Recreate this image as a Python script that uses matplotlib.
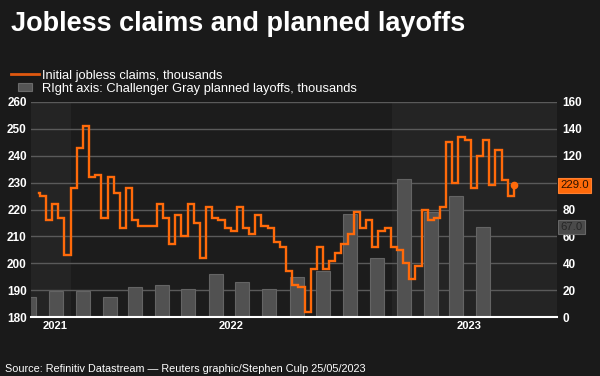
import matplotlib
matplotlib.use('Agg')
import matplotlib.pyplot as plt
import matplotlib.patches as mpatches
from matplotlib.lines import Line2D
from matplotlib.legend_handler import HandlerPatch
import pandas as pd

plt.rcParams.update({
    'font.family': ['Liberation Sans', 'DejaVu Sans'],
    'font.size': 9,
    'figure.dpi': 100,
    'savefig.dpi': 100,
})

BG = '#1a1a1a'
ORANGE = '#ff6a0a'
BAR_FILL = '#515151'
BAR_EDGE = '#646464'

# weekly initial jobless claims (thousands); first value is the tail of the prior week
claims_values = [226, 225, 216, 222, 217, 203, 228, 243, 251, 232,
                 233, 217, 232, 226, 213, 228, 216, 214, 214, 214,
                 222, 217, 207, 218, 210, 222, 215, 202, 221, 217,
                 216, 213, 212, 221, 213, 211, 218, 214, 213, 208,
                 206, 197, 192, 191, 182, 198, 206, 198, 201, 204,
                 207, 211, 219, 213, 216, 206, 212, 213, 206, 205,
                 200, 194, 199, 220, 216, 217, 221, 245, 230, 247,
                 246, 228, 240, 246, 229, 242, 231, 225, 229]
claims_first_date = '2021-11-26'
claims_week_start = '2021-11-27'

# Challenger Gray planned layoffs (thousands), monthly Nov 2021 - Apr 2023
layoff_values = [15, 19, 19, 15, 22, 24, 21, 32, 26, 21,
                 30, 34, 77, 44, 103, 78, 90, 67]
layoff_first_month = '2021-11-01'

years = ['2021', '2022', '2023']
year_label_dates = ['2021-12-14', '2022-07-03', '2023-03-30']
year_starts = ['2022-01-01', '2023-01-01']
x_range = ['2021-11-17', '2023-07-08']

claims_dates = pd.DatetimeIndex([claims_first_date]).append(
    pd.date_range(claims_week_start, periods=len(claims_values) - 1, freq='7D'))
layoff_dates = pd.date_range(layoff_first_month, periods=len(layoff_values),
                             freq='MS') + pd.Timedelta(days=14)
x0, x1 = pd.to_datetime(x_range)

fig = plt.figure(figsize=(6.0, 3.76), facecolor=BG)
ax_bars = fig.add_axes([31 / 600, 59 / 376, 526 / 600, 215 / 376])
ax_line = ax_bars.twinx()

# background bands per calendar year
ax_bars.set_facecolor('#1c1c1c')
ax_bars.axvspan(x0, pd.Timestamp(year_starts[0]), color='#242424', zorder=0, lw=0)
ax_bars.axvspan(pd.Timestamp(year_starts[1]), x1, color='#242424', zorder=0, lw=0)

ax_bars.bar(layoff_dates, layoff_values, width=16, color=BAR_FILL,
            edgecolor=BAR_EDGE, linewidth=0.8, zorder=2)
ax_line.plot(claims_dates, claims_values, color=ORANGE, lw=1.7,
             drawstyle='steps-post', solid_joinstyle='miter', zorder=3)
ax_line.plot(claims_dates[-1:], claims_values[-1:], 'o', color=ORANGE,
             ms=4.5, zorder=4)

ax_bars.set_xlim(x0, x1)
ax_bars.set_ylim(0, 160)
ax_line.set_ylim(180, 260)
right_ticks = list(range(0, 161, 20))
ax_bars.set_yticks(right_ticks)
ax_line.set_yticks(range(180, 261, 10))
ax_bars.set_xticks(pd.to_datetime(year_label_dates))
ax_bars.set_xticklabels(years)

ax_bars.yaxis.tick_right()
ax_line.yaxis.tick_left()
ax_bars.yaxis.grid(True, color='#5a5a5a', lw=1)
ax_bars.set_axisbelow(True)

for a in (ax_bars, ax_line):
    for s in a.spines.values():
        s.set_visible(False)
    a.tick_params(length=0, colors='white', labelsize=8.5)
    for lab in a.get_yticklabels() + a.get_xticklabels():
        lab.set_fontweight('bold')
ax_bars.spines['bottom'].set_visible(True)
ax_bars.spines['bottom'].set_color('white')
ax_bars.spines['bottom'].set_linewidth(1.5)
ax_bars.tick_params(axis='y', pad=4)
ax_bars.tick_params(axis='x', pad=3, labelsize=8)
ax_line.tick_params(axis='y', pad=3)

# the last-claims box sits over the right-axis tick it covers
claims_on_right = (claims_values[-1] - 180) * 2
for t, lab in zip(right_ticks, ax_bars.get_yticklabels()):
    if abs(t - claims_on_right) < 5:
        lab.set_visible(False)

# last-value labels on the right axis
ax_line.text(1.006, claims_values[-1], f'{claims_values[-1]:.1f}',
             transform=ax_line.get_yaxis_transform(), ha='left', va='center',
             fontsize=8.2, color='#2a1200', clip_on=False, zorder=10,
             bbox=dict(boxstyle='square,pad=0.2', fc=ORANGE, ec='#ff8030', lw=0.8))
ax_line.text(1.006, layoff_values[-1], f'{layoff_values[-1]:.1f}',
             transform=ax_bars.get_yaxis_transform(), ha='left', va='center',
             fontsize=8.2, color='#262626', clip_on=False, zorder=10,
             bbox=dict(boxstyle='square,pad=0.2', fc='#4a4a4a', ec='#666666', lw=0.8))


def small_box(legend, orig_handle, xdescent, ydescent, width, height, fontsize):
    return mpatches.Rectangle((-xdescent + width * 0.24, -ydescent + height * 0.05),
                              width * 0.52, height * 0.9)


handles = [Line2D([], [], color='#e0580f', lw=2),
           mpatches.Patch(facecolor='#555555', edgecolor='#6a6a6a', lw=0.8)]
labels = ['Initial jobless claims, thousands',
          'RIght axis: Challenger Gray planned layoffs, thousands']
leg = fig.legend(handles, labels, loc='upper left', bbox_to_anchor=(0.019, 0.815),
                 frameon=False, fontsize=9.3, labelcolor='white',
                 handlelength=2.1, handleheight=0.65, handletextpad=0.3,
                 labelspacing=0.1, borderpad=0, borderaxespad=0,
                 handler_map={mpatches.Patch: HandlerPatch(patch_func=small_box)})

fig.text(0.018, 1 - 31 / 376, 'Jobless claims and planned layoffs',
         fontsize=19.5, fontweight='bold', color='white', va='baseline')
fig.text(0.008, 1 - 372 / 376,
         'Source: Refinitiv Datastream \u2014 Reuters graphic/Stephen Culp 25/05/2023',
         fontsize=7.85, color='white', va='baseline')

fig.savefig('out.png', facecolor=BG)
